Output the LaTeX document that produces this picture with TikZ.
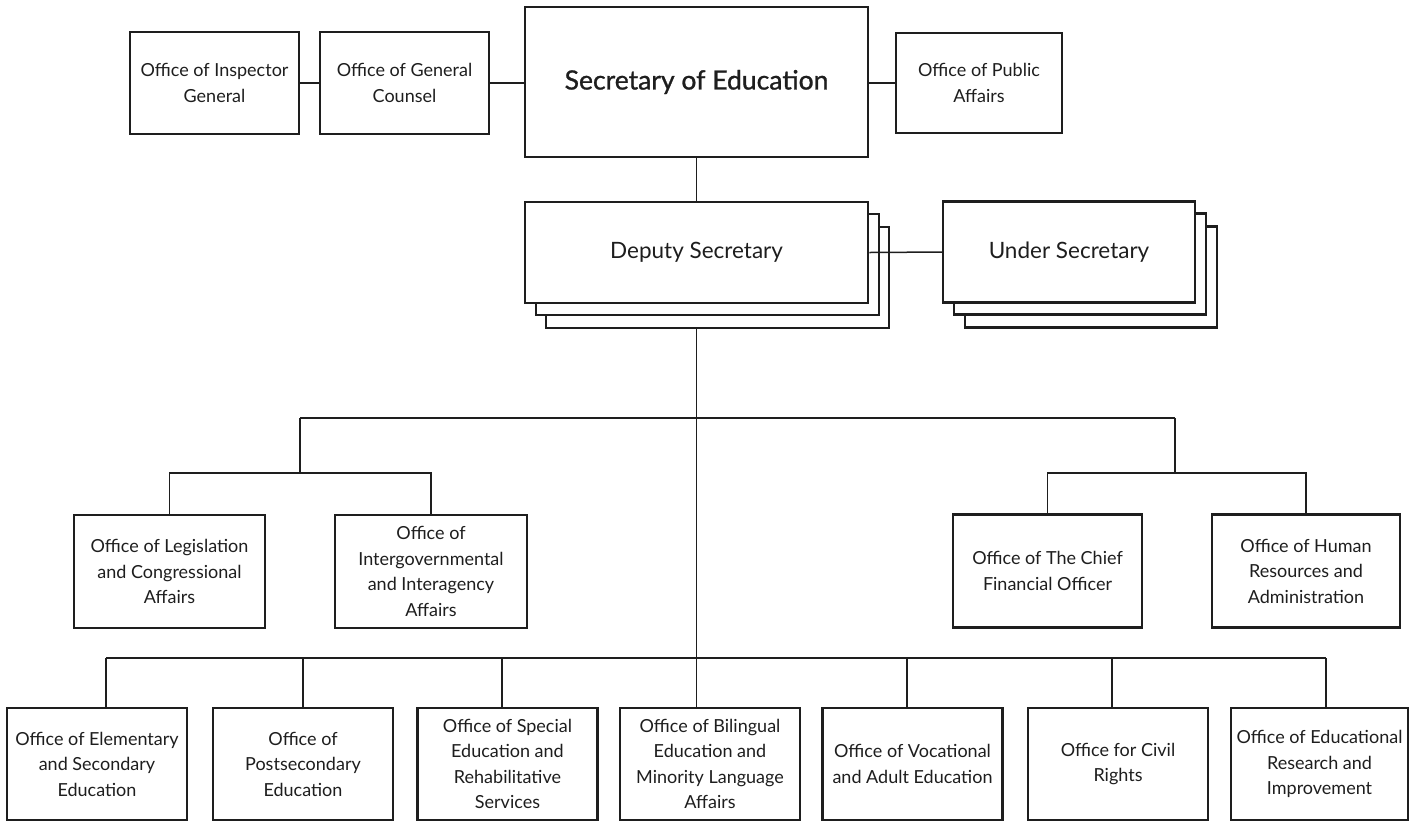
\documentclass[tikz,border=0pt]{standalone}
\usepackage{fontspec}
\setmainfont{Lato}
\newfontfamily\headfont[FakeBold=1]{Lato}
\definecolor{ink}{HTML}{1E1E1E}
\begin{document}
\begin{tikzpicture}[x=1pt,y=-1pt,
  box/.style={draw=ink, line width=2.5pt, fill=white, inner sep=2pt, align=center,
              text=ink, font=\fontsize{18}{25.5}\selectfont},
  topbox/.style={box, minimum width=169pt, minimum height=102pt},
  stackbox/.style={box, minimum height=101pt, font=\fontsize{22.5}{26}\selectfont},
  midbox/.style={box, minimum height=113pt},
  lowbox/.style={box, minimum width=180pt, minimum height=112pt},
  link/.style={draw=ink, line width=1.5pt}]
\useasboundingbox (0,0) rectangle (1420,823);

% top row
\node[topbox] (ig) at (214.5,83) {Office of Inspector\\General};
\node[topbox] (gc) at (404.5,83) {Office of General\\Counsel};
\node[box, minimum width=343pt, minimum height=150pt,
      font=\headfont\fontsize{26.5}{30}\selectfont] (sec) at (696.5,82) {Secretary of Education};
\node[topbox, minimum width=166pt, minimum height=100pt] (pa) at (979,83) {Office of Public\\Affairs};

% junction points of the bus bars
\coordinate (hubL) at (300,418);
\coordinate (hubR) at (1175,418);
\coordinate (forkL) at (300,473);
\coordinate (forkR) at (1175,473);
\coordinate (d1) at (106,658);
\coordinate (d2) at (303,658);
\coordinate (d3) at (502,658);
\coordinate (d4) at (696.5,658);
\coordinate (d5) at (907,658);
\coordinate (d6) at (1112,658);
\coordinate (d7) at (1326,658);

% the spine runs behind the stacked deputy boxes
\node[stackbox, minimum width=343pt] (dep) at (696.5,252.5) {};
\node[lowbox] (bil) at (710,764) {Office of Bilingual\\Education and\\Minority Language\\Affairs};
\path[link] (dep.south) -- (dep.south |- bil.north);

% stacked offices behind the deputy and under secretary
\node[stackbox, minimum width=343pt] (depB) at (717.5,277.5) {};
\node[stackbox, minimum width=343pt] (depA) at (707.5,264.5) {};
\node[stackbox, minimum width=252pt] (undB) at (1091,277) {};
\node[stackbox, minimum width=252pt] (undA) at (1080,264) {};
\node[stackbox, minimum width=343pt] (dep) at (696.5,252.5) {Deputy Secretary};
\node[stackbox, minimum width=252pt] (und) at (1069,252) {Under Secretary};

% staff offices
\node[midbox, minimum width=191pt] (leg) at (169.5,571.5) {Office of Legislation\\and Congressional\\Affairs};
\node[midbox, minimum width=192pt] (inter) at (431,571.5) {Office of\\Intergovernmental\\and Interagency\\Affairs};
\node[midbox, minimum width=189pt] (cfo) at (1047.5,571) {Office of The Chief\\Financial Officer};
\node[midbox, minimum width=188pt] (hr) at (1306,571) {Office of Human\\Resources and\\Administration};

% program offices
\node[lowbox] (elem) at (97,764) {Office of Elementary\\and Secondary\\Education};
\node[lowbox] (post) at (303,764) {Office of\\Postsecondary\\Education};
\node[lowbox] (spec) at (507.5,764) {Office of Special\\Education and\\Rehabilitative\\Services};
\node[lowbox] (voc) at (912.5,764) {Office of Vocational\\and Adult Education};
\node[lowbox] (civ) at (1118,764) {Office for Civil\\Rights};
\node[lowbox, minimum width=177pt] (res) at (1319.5,764) {Office of Educational\\Research and\\Improvement};

% connectors
\path[link] (ig.east) -- (gc.west);
\path[link] (gc.east) -- (gc.east -| sec.west);
\path[link] (sec.east |- pa.west) -- (pa.west);
\path[link] (sec.south) -- (dep.north);
\path[link] (dep.east) -- (und.west);

\path[link] (hubL) -- (hubR);
\path[link] (hubL) -- (forkL);
\path[link] (hubR) -- (forkR);
\path[link] (leg.north) |- (forkL) -| (inter.north);
\path[link] (cfo.north) |- (forkR) -| (hr.north);

\path[link] (d1) -- (d7);
\path[link] (d1) -- (d1 |- elem.north);
\path[link] (d2) -- (d2 |- post.north);
\path[link] (d3) -- (d3 |- spec.north);
\path[link] (d5) -- (d5 |- voc.north);
\path[link] (d6) -- (d6 |- civ.north);
\path[link] (d7) -- (d7 |- res.north);
\end{tikzpicture}
\end{document}
